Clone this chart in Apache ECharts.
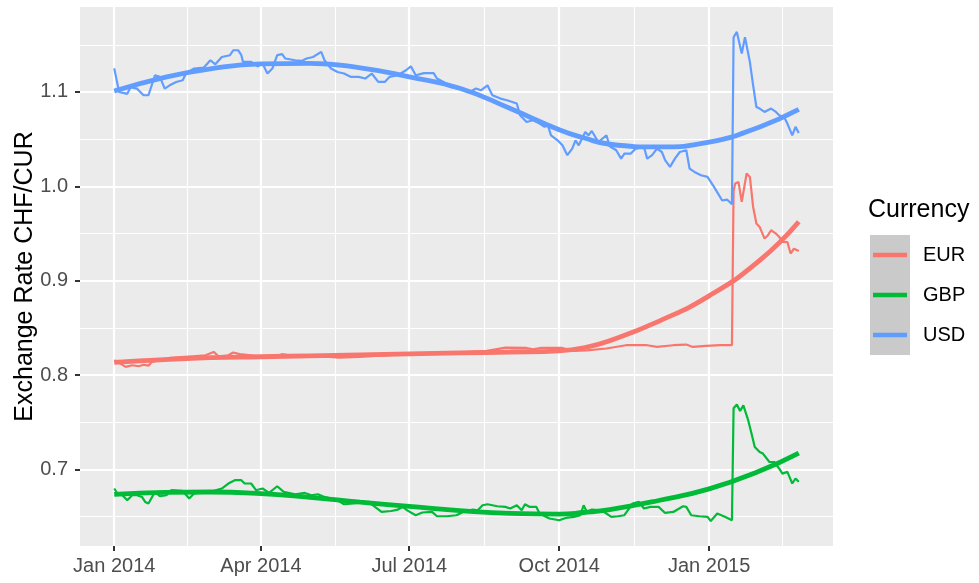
<!DOCTYPE html>
<html lang="en">
<head>
<meta charset="UTF-8">
<title>Exchange Rate CHF/CUR</title>
<script src="https://cdn.jsdelivr.net/npm/echarts@6/dist/echarts.min.js"></script>
<style>
    html, body { margin: 0; padding: 0; background: #fff; }
    #chart { width: 979px; height: 583px; }
</style>
</head>
<body>
<div id="chart"></div>
<script>
// daily rates
var eurDates = ['2014-01-01','2014-01-05','2014-01-08','2014-01-12','2014-01-16','2014-01-19','2014-01-22','2014-01-24','2014-02-04','2014-02-18','2014-02-26','2014-03-03','2014-03-06','2014-03-12','2014-03-15','2014-03-19','2014-03-27','2014-04-06','2014-04-14','2014-04-20','2014-05-03','2014-05-19','2014-05-31','2014-06-13','2014-07-01','2014-07-21','2014-08-17','2014-08-29','2014-09-11','2014-09-15','2014-09-20','2014-10-03','2014-10-10','2014-10-18','2014-10-30','2014-11-11','2014-11-24','2014-11-30','2014-12-10','2014-12-18','2014-12-22','2014-12-30','2015-01-08','2015-01-15','2015-01-16','2015-01-17','2015-01-19','2015-01-21','2015-01-24','2015-01-26','2015-01-28','2015-01-30','2015-02-01','2015-02-04','2015-02-06','2015-02-08','2015-02-11','2015-02-13','2015-02-15','2015-02-18','2015-02-20','2015-02-22','2015-02-25'];
var eurRate = [0.8158,0.812,0.8087,0.8105,0.8094,0.811,0.810,0.814,0.8182,0.820,0.821,0.8246,0.820,0.821,0.824,0.8222,0.8207,0.8182,0.8222,0.8205,0.8207,0.8186,0.8193,0.8207,0.8222,0.823,0.8256,0.8292,0.8288,0.8274,0.8288,0.8288,0.8256,0.8263,0.8282,0.8317,0.8317,0.8299,0.8317,0.8324,0.8299,0.831,0.8317,0.8317,0.995,1.003,1.0047,0.9835,1.0136,1.010,0.9782,0.9606,0.957,0.9447,0.948,0.9535,0.950,0.9464,0.9411,0.941,0.9288,0.934,0.9316];

var gbpDates = ['2014-01-01','2014-01-03','2014-01-06','2014-01-09','2014-01-12','2014-01-15','2014-01-18','2014-01-20','2014-01-22','2014-01-26','2014-01-29','2014-02-02','2014-02-05','2014-02-12','2014-02-16','2014-02-19','2014-03-01','2014-03-08','2014-03-12','2014-03-16','2014-03-20','2014-03-22','2014-03-26','2014-03-29','2014-04-02','2014-04-06','2014-04-11','2014-04-15','2014-04-22','2014-04-28','2014-05-02','2014-05-06','2014-05-10','2014-05-18','2014-05-22','2014-05-28','2014-06-06','2014-06-14','2014-06-20','2014-06-24','2014-06-27','2014-06-30','2014-07-05','2014-07-09','2014-07-15','2014-07-18','2014-07-24','2014-07-30','2014-08-03','2014-08-09','2014-08-12','2014-08-15','2014-08-18','2014-08-24','2014-08-29','2014-09-01','2014-09-05','2014-09-08','2014-09-10','2014-09-13','2014-09-17','2014-09-19','2014-09-25','2014-10-01','2014-10-05','2014-10-10','2014-10-14','2014-10-16','2014-10-18','2014-10-21','2014-10-27','2014-11-02','2014-11-06','2014-11-10','2014-11-15','2014-11-19','2014-11-22','2014-11-26','2014-12-01','2014-12-05','2014-12-10','2014-12-16','2014-12-18','2014-12-21','2014-12-26','2014-12-31','2015-01-02','2015-01-06','2015-01-11','2015-01-15','2015-01-16','2015-01-18','2015-01-20','2015-01-22','2015-01-25','2015-01-27','2015-01-29','2015-02-01','2015-02-03','2015-02-07','2015-02-10','2015-02-13','2015-02-15','2015-02-18','2015-02-21','2015-02-23','2015-02-25'];
var gbpRate = [0.6799,0.6746,0.6728,0.6675,0.6728,0.6728,0.671,0.6657,0.664,0.6763,0.6717,0.6728,0.6781,0.6773,0.6693,0.6746,0.6763,0.6799,0.6852,0.6887,0.6887,0.6852,0.6852,0.6781,0.6799,0.6752,0.6823,0.6763,0.6738,0.6752,0.6728,0.6738,0.671,0.6675,0.6632,0.664,0.6657,0.6551,0.6561,0.6576,0.6604,0.6565,0.6516,0.6545,0.6551,0.6505,0.6505,0.6516,0.6551,0.6576,0.6569,0.6622,0.6632,0.6611,0.6604,0.6587,0.6622,0.6569,0.6632,0.6604,0.6604,0.6534,0.6481,0.6463,0.6487,0.6498,0.6516,0.6622,0.6551,0.6576,0.6569,0.6498,0.6505,0.6516,0.664,0.6657,0.6587,0.6604,0.6604,0.654,0.6551,0.6611,0.6604,0.6516,0.6505,0.6498,0.6455,0.6534,0.6498,0.6463,0.765,0.769,0.762,0.768,0.752,0.7381,0.7239,0.7186,0.7169,0.708,0.708,0.701,0.6957,0.6975,0.6852,0.6905,0.687];

var usdDates = ['2014-01-01','2014-01-04','2014-01-09','2014-01-11','2014-01-15','2014-01-19','2014-01-22','2014-01-26','2014-01-29','2014-02-01','2014-02-04','2014-02-08','2014-02-12','2014-02-14','2014-02-19','2014-02-25','2014-03-01','2014-03-04','2014-03-08','2014-03-13','2014-03-15','2014-03-18','2014-03-20','2014-03-21','2014-03-26','2014-03-30','2014-04-02','2014-04-05','2014-04-08','2014-04-11','2014-04-14','2014-04-16','2014-04-22','2014-04-26','2014-04-29','2014-05-03','2014-05-08','2014-05-10','2014-05-14','2014-05-18','2014-05-22','2014-05-26','2014-05-31','2014-06-04','2014-06-08','2014-06-12','2014-06-16','2014-06-19','2014-06-24','2014-06-29','2014-07-02','2014-07-05','2014-07-10','2014-07-16','2014-07-18','2014-07-22','2014-07-26','2014-08-03','2014-08-07','2014-08-11','2014-08-14','2014-08-18','2014-08-21','2014-08-26','2014-08-30','2014-09-05','2014-09-07','2014-09-11','2014-09-15','2014-09-19','2014-09-22','2014-09-24','2014-09-26','2014-09-30','2014-10-03','2014-10-06','2014-10-09','2014-10-11','2014-10-13','2014-10-17','2014-10-19','2014-10-21','2014-10-25','2014-10-30','2014-11-01','2014-11-05','2014-11-08','2014-11-10','2014-11-14','2014-11-17','2014-11-22','2014-11-24','2014-11-27','2014-11-30','2014-12-03','2014-12-05','2014-12-08','2014-12-11','2014-12-14','2014-12-18','2014-12-20','2014-12-23','2014-12-27','2014-12-31','2015-01-04','2015-01-09','2015-01-12','2015-01-15','2015-01-16','2015-01-18','2015-01-19','2015-01-21','2015-01-23','2015-01-26','2015-01-28','2015-01-30','2015-02-01','2015-02-04','2015-02-08','2015-02-11','2015-02-13','2015-02-16','2015-02-18','2015-02-21','2015-02-23','2015-02-25'];
var usdRate = [1.125,1.100,1.098,1.105,1.1035,1.0965,1.0965,1.1177,1.116,1.1036,1.107,1.1106,1.1124,1.1195,1.1248,1.1258,1.1336,1.1293,1.137,1.1389,1.1442,1.1442,1.139,1.1318,1.1318,1.1272,1.130,1.1195,1.1248,1.139,1.140,1.1354,1.1336,1.1329,1.1354,1.137,1.1424,1.1336,1.1248,1.1212,1.1195,1.116,1.116,1.1142,1.1195,1.1106,1.1106,1.116,1.1177,1.123,1.1272,1.1177,1.120,1.120,1.1142,1.1106,1.1053,1.1025,1.100,1.1036,1.1018,1.107,1.0965,1.093,1.0912,1.0877,1.0753,1.0682,1.070,1.0665,1.063,1.0647,1.054,1.0488,1.0435,1.033,1.040,1.0488,1.0435,1.0576,1.054,1.0587,1.047,1.054,1.0425,1.0382,1.0294,1.0347,1.0347,1.040,1.0417,1.0294,1.033,1.040,1.0364,1.0277,1.0206,1.0294,1.0364,1.0382,1.0188,1.0153,1.0118,1.010,0.9994,0.985,0.986,0.981,1.158,1.1636,1.162,1.1407,1.158,1.1318,1.107,1.0841,1.0824,1.0788,1.0824,1.0788,1.0753,1.0735,1.0665,1.054,1.063,1.0566];

// smoothed fit and its standard-error half width
var fitDates = ['2014-01-01','2014-02-01','2014-03-01','2014-04-01','2014-05-01','2014-06-01','2014-07-01','2014-08-01','2014-09-01','2014-10-01','2014-10-16','2014-11-01','2014-12-01','2015-01-01','2015-02-01','2015-02-25'];
var eurFit = [0.8135,0.8165,0.8185,0.8195,0.8205,0.8215,0.8225,0.8235,0.8245,0.8258,0.8290,0.8365,0.8570,0.8840,0.9215,0.9625];
var eurSe = [0.007,0.004,0.003,0.003,0.003,0.003,0.003,0.003,0.003,0.003,0.003,0.003,0.003,0.004,0.006,0.009];
var gbpFit = [0.6738,0.6758,0.6762,0.6745,0.6705,0.6655,0.6610,0.6565,0.6535,0.6528,0.6545,0.6575,0.6672,0.6795,0.6985,0.7175];
var gbpSe = [0.005,0.003,0.002,0.002,0.002,0.002,0.002,0.002,0.002,0.002,0.002,0.002,0.002,0.003,0.004,0.005];
var usdFit = [1.1010,1.1155,1.1245,1.1297,1.1302,1.1255,1.1160,1.1040,1.0824,1.0600,1.0515,1.0446,1.0418,1.0468,1.0630,1.0815];
var usdSe = [0.008,0.004,0.003,0.003,0.003,0.003,0.003,0.003,0.003,0.003,0.003,0.003,0.003,0.004,0.006,0.008];

var xBreaks = ['2013-10-01','2014-01-01','2014-04-01','2014-07-01','2014-10-01','2015-01-01','2015-04-01'];
var yBreaks = [0.6, 0.7, 0.8, 0.9, 1.0, 1.1, 1.2];
var currencies = ['EUR', 'GBP', 'USD'];
var colors = {EUR: '#F8766D', GBP: '#00BA38', USD: '#619CFF'};
var monthNames = ['Jan','Feb','Mar','Apr','May','Jun','Jul','Aug','Sep','Oct','Nov','Dec'];

function t(s) { return Date.parse(s + 'T00:00:00Z'); }

var xMin = t('2013-12-11'), xMax = t('2015-03-18');
var yMin = 0.619, yMax = 1.19;

var raw = {
    EUR: [eurDates, eurRate],
    GBP: [gbpDates, gbpRate],
    USD: [usdDates, usdRate]
};
var fit = {
    EUR: [eurFit, eurSe],
    GBP: [gbpFit, gbpSe],
    USD: [usdFit, usdSe]
};

// grid lines (major + minor midpoints), kept behind the data
var gridLines = [];
var xMajor = xBreaks.map(t);
for (var i = 0; i < xMajor.length; i++) {
    if (xMajor[i] > xMin && xMajor[i] < xMax) gridLines.push({xAxis: xMajor[i], lineStyle: {width: 2.2}});
    if (i > 0) {
        var m = (xMajor[i] + xMajor[i - 1]) / 2;
        if (m > xMin && m < xMax) gridLines.push({xAxis: m, lineStyle: {width: 1.1}});
    }
}
for (var j = 0; j < yBreaks.length; j++) {
    if (yBreaks[j] > yMin && yBreaks[j] < yMax) gridLines.push({yAxis: yBreaks[j], lineStyle: {width: 2.2}});
    if (j > 0) {
        var my = (yBreaks[j] + yBreaks[j - 1]) / 2;
        if (my > yMin && my < yMax) gridLines.push({yAxis: my, lineStyle: {width: 1.1}});
    }
}

var series = [];
currencies.forEach(function (c, k) {
    var d = raw[c][0], v = raw[c][1];
    var s = {
        name: c + ' rate',
        type: 'line',
        showSymbol: false,
        silent: true,
        color: colors[c],
        lineStyle: {width: 2.2, color: colors[c]},
        data: d.map(function (x, i) { return [t(x), v[i]]; })
    };
    if (k === 0) {
        s.markLine = {
            silent: true,
            z: 1,
            symbol: ['none', 'none'],
            label: {show: false},
            emphasis: {disabled: true},
            lineStyle: {color: '#ffffff', type: 'solid'},
            data: gridLines
        };
    }
    series.push(s);
});

currencies.forEach(function (c) {
    var f = fit[c][0], se = fit[c][1];
    series.push({
        name: c + ' lo',
        type: 'line',
        stack: c + 'band',
        smooth: true,
        showSymbol: false,
        silent: true,
        lineStyle: {opacity: 0},
        data: fitDates.map(function (x, i) { return [t(x), f[i] - se[i]]; })
    });
    series.push({
        name: c + ' band',
        type: 'line',
        stack: c + 'band',
        smooth: true,
        showSymbol: false,
        silent: true,
        lineStyle: {opacity: 0},
        areaStyle: {color: '#999999', opacity: 0.4},
        data: fitDates.map(function (x, i) { return [t(x), 2 * se[i]]; })
    });
    series.push({
        name: c,
        type: 'line',
        smooth: true,
        showSymbol: false,
        silent: true,
        color: colors[c],
        lineStyle: {width: 4.8, color: colors[c]},
        data: fitDates.map(function (x, i) { return [t(x), f[i]]; })
    });
});

var chart = echarts.init(document.getElementById('chart'));
chart.setOption({
    animation: false,
    grid: {
        left: 80, right: 146, top: 7, bottom: 37,
        show: true, backgroundColor: '#EBEBEB', borderWidth: 0
    },
    title: {
        text: 'Currency',
        left: 868, top: 198,
        padding: 0,
        textStyle: {fontFamily: 'Liberation Sans', fontSize: 25, fontWeight: 'normal', color: '#000'}
    },
    legend: {
        data: currencies,
        orient: 'vertical',
        left: 873, top: 245,
        padding: 0,
        itemWidth: 34, itemHeight: 4.5,
        itemGap: 20,
        icon: 'rect',
        selectedMode: false,
        textStyle: {fontFamily: 'Liberation Sans', fontSize: 20, color: '#000', padding: [0, 0, 0, 11]}
    },
    graphic: [{
        type: 'rect',
        z: -1,
        shape: {x: 870, y: 235, width: 40, height: 120},
        style: {fill: '#CACACA'}
    }],
    xAxis: {
        type: 'value',
        min: xMin, max: xMax,
        axisLine: {show: false},
        splitLine: {show: false},
        axisTick: {show: true, customValues: xBreaks.map(t), length: 5, lineStyle: {color: '#333333', width: 2}},
        axisLabel: {
            customValues: xBreaks.map(t),
            margin: 10,
            fontFamily: 'Liberation Sans', fontSize: 20, color: '#4D4D4D',
            formatter: function (v) {
                var d = new Date(v);
                return monthNames[d.getUTCMonth()] + ' ' + d.getUTCFullYear();
            }
        }
    },
    yAxis: {
        type: 'value',
        min: yMin, max: yMax,
        name: 'Exchange Rate CHF/CUR',
        nameLocation: 'middle',
        nameGap: 42,
        nameMoveOverlap: false,
        nameTextStyle: {fontFamily: 'Liberation Sans', fontSize: 25, color: '#000'},
        axisLine: {show: false},
        splitLine: {show: false},
        axisTick: {show: true, customValues: yBreaks, length: 5, lineStyle: {color: '#333333', width: 2}},
        axisLabel: {
            customValues: yBreaks,
            margin: 12,
            fontFamily: 'Liberation Sans', fontSize: 20, color: '#4D4D4D',
            formatter: function (v) { return v.toFixed(1); }
        }
    },
    series: series
});
</script>
</body>
</html>
